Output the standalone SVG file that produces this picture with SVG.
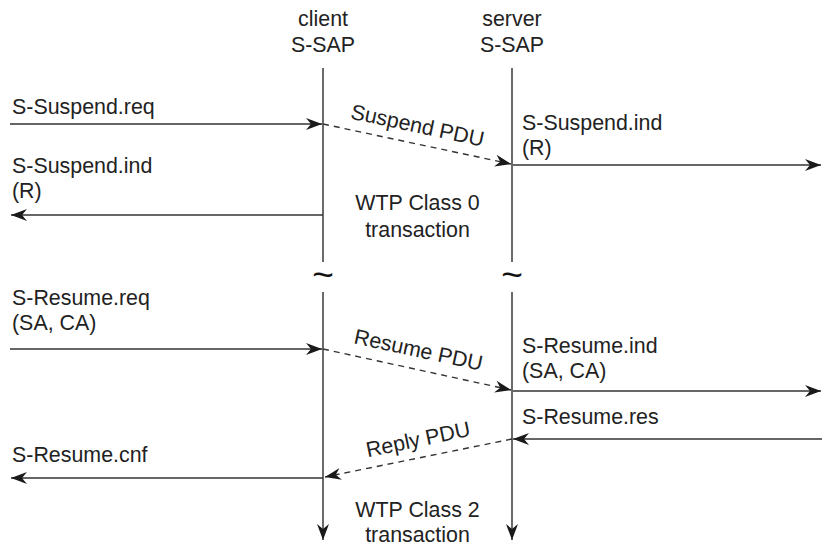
<svg xmlns="http://www.w3.org/2000/svg" width="822" height="547" viewBox="0 0 822 547">
<style>
  text { font-family: "Liberation Sans", Arial, sans-serif; font-size: 21.4px; fill: #222; }
  .mid { text-anchor: middle; }
  .life { stroke: #6a6a6a; stroke-width: 2; fill: none; }
  .msg { stroke: #333; stroke-width: 1.5; fill: none; }
  .pdu { stroke: #333; stroke-width: 1.4; fill: none; stroke-dasharray: 6 5; }
  .tilde { font-size: 37px; text-anchor: middle; fill: #111; }
</style>
<defs>
  <marker id="ah" viewBox="-17 -7 18 14" refX="0" refY="0" markerWidth="18" markerHeight="14" markerUnits="userSpaceOnUse" orient="auto">
    <path d="M0,0 L-16,-6 L-11,0 L-16,6 Z" fill="#1a1a1a"/>
  </marker>
</defs>
<rect width="822" height="547" fill="#fff"/>

<g id="client">
  <text class="mid" x="323" y="26">client</text>
  <text class="mid" x="323" y="52">S-SAP</text>
  <line class="life" x1="323" y1="68" x2="323" y2="262"/>
  <text class="tilde" x="323" y="287">~</text>
  <line class="life" x1="323" y1="292" x2="323" y2="540" marker-end="url(#ah)"/>
</g>

<g id="server">
  <text class="mid" x="512" y="26">server</text>
  <text class="mid" x="512" y="52">S-SAP</text>
  <line class="life" x1="512" y1="68" x2="512" y2="262"/>
  <text class="tilde" x="512" y="287">~</text>
  <line class="life" x1="512" y1="292" x2="512" y2="540" marker-end="url(#ah)"/>
</g>

<g id="connectors">
  <line class="msg" x1="10" y1="124" x2="322" y2="124" marker-end="url(#ah)"/>
  <line class="pdu" x1="323" y1="124" x2="511" y2="164" marker-end="url(#ah)"/>
  <line class="msg" x1="513" y1="165" x2="821" y2="165" marker-end="url(#ah)"/>
  <line class="msg" x1="323" y1="215" x2="11" y2="215" marker-end="url(#ah)"/>

  <line class="msg" x1="10" y1="349" x2="322" y2="349" marker-end="url(#ah)"/>
  <line class="pdu" x1="323" y1="349" x2="511" y2="390" marker-end="url(#ah)"/>
  <line class="msg" x1="513" y1="391" x2="821" y2="391" marker-end="url(#ah)"/>
  <line class="msg" x1="822" y1="439" x2="513" y2="439" marker-end="url(#ah)"/>
  <line class="pdu" x1="512" y1="439" x2="325" y2="477" marker-end="url(#ah)"/>
  <line class="msg" x1="323" y1="478" x2="11" y2="478" marker-end="url(#ah)"/>
</g>

<g id="labels">
  <text x="12" y="113.5">S-Suspend.req</text>
  <text x="12" y="172.5">S-Suspend.ind</text>
  <text x="12" y="198">(R)</text>
  <text x="522" y="129.5">S-Suspend.ind</text>
  <text x="522" y="155">(R)</text>
  <text class="mid" transform="translate(416,132.5) rotate(12)">Suspend PDU</text>
  <text class="mid" x="417.5" y="210">WTP Class 0</text>
  <text class="mid" x="417.5" y="236.5">transaction</text>

  <text x="12" y="305">S-Resume.req</text>
  <text x="12" y="330">(SA, CA)</text>
  <text x="522" y="352.5">S-Resume.ind</text>
  <text x="522" y="378">(SA, CA)</text>
  <text x="522" y="424">S-Resume.res</text>
  <text x="12" y="462">S-Resume.cnf</text>
  <text class="mid" transform="translate(417,357) rotate(12.2)">Resume PDU</text>
  <text class="mid" transform="translate(419.5,446.5) rotate(-11.8)">Reply PDU</text>
  <text class="mid" x="417.5" y="516.5">WTP Class 2</text>
  <text class="mid" x="417.5" y="542">transaction</text>
</g>
</svg>
